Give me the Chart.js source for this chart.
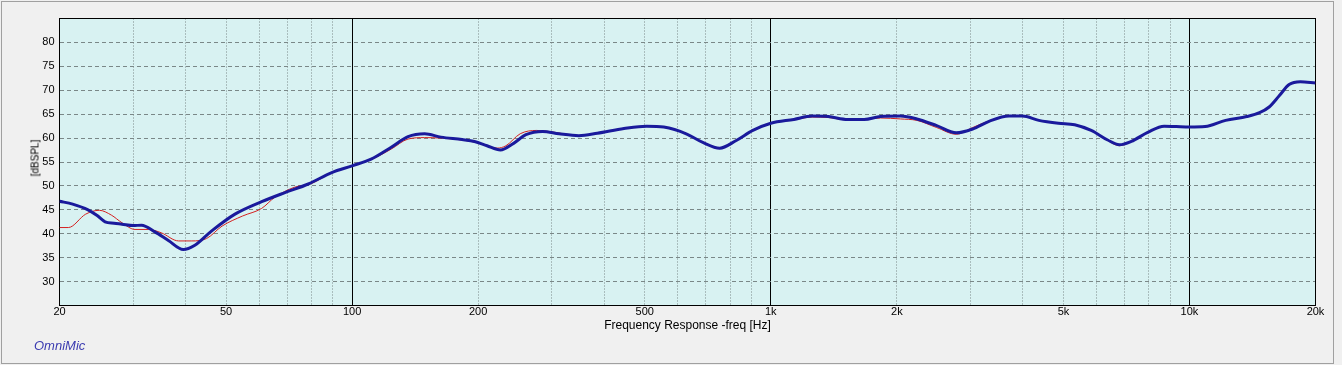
<!DOCTYPE html>
<html>
<head>
<meta charset="utf-8">
<title>Frequency Response</title>
<script src="https://cdn.jsdelivr.net/npm/chart.js@4.4.1/dist/chart.umd.min.js"></script>
<style>
  html, body { margin: 0; padding: 0; background: #f0f0f0; }
  #wrap { position: relative; width: 1342px; height: 365px; overflow: hidden; }
  #frame { position: absolute; left: 1px; top: 1px; width: 1333px; height: 363px; box-sizing: border-box; border: 1px solid #a0a0a0; }
  #chart { position: absolute; left: 0; top: 0; }
  #ytitle { position: absolute; left: 35px; top: 158px; transform: translate(-50%, -50%) rotate(-90deg);
            font: 10px "Liberation Sans", Arial, sans-serif; color: #000; white-space: nowrap; }
  #brand { position: absolute; left: 34px; top: 338px; font: italic 13px "Liberation Sans", Arial, sans-serif; color: #3a3ab0; }
</style>
</head>
<body>
<div id="wrap">
  <div id="frame"></div>
  <canvas id="chart" width="1342" height="365"></canvas>
  <div id="ytitle">[dBSPL]</div>
  <div id="brand">OmniMic</div>
</div>
<script>
// Measured response (thick blue trace)
const BLUE_FREQ = [
  20, 21.5, 23.4, 24.6, 25.7, 27, 28.2, 30, 31.4, 33.8,
  36.4, 39.5, 42.1, 46.2, 52.5, 60.8, 69.1, 78.6, 89.4, 100,
  111, 124, 136, 149, 163, 183, 196, 210, 226, 243,
  260, 285, 312, 348, 385, 446, 505, 555, 628, 688,
  755, 827, 906, 1000, 1135, 1256, 1371, 1528, 1671, 1828,
  2040, 2233, 2490, 2773, 3035, 3321, 3708, 3990, 4367, 4865,
  5319, 5825, 6377, 6800, 7260, 7950, 8700, 9300, 10000, 10900,
  12200, 13700, 14700, 15500, 16400, 17300, 18400, 20000
];
const BLUE_DB = [
  46.8, 46.2, 45.0, 43.8, 42.5, 42.2, 42.0, 41.7, 41.8, 40.4,
  38.6, 36.7, 37.6, 40.6, 44.1, 46.7, 48.6, 50.4, 52.8, 54.2,
  55.6, 58.1, 60.3, 60.9, 60.2, 59.7, 59.3, 58.4, 57.5, 58.9,
  60.7, 61.4, 60.9, 60.5, 61.0, 62.0, 62.5, 62.3, 60.9, 59.1,
  57.9, 59.5, 61.6, 63.1, 63.9, 64.6, 64.5, 63.9, 63.9, 64.5,
  64.6, 64.0, 62.6, 61.1, 61.9, 63.5, 64.6, 64.6, 63.7, 63.1,
  62.8, 61.6, 59.6, 58.6, 59.3, 61.2, 62.5, 62.4, 62.3, 62.4,
  63.7, 64.5, 65.3, 66.5, 68.9, 71.2, 71.8, 71.5
];

// Reference response (thin red trace)
const RED_FREQ = [
  20, 21, 23.1, 24.9, 26.6, 28.2, 30.3, 32.6, 35, 38.5,
  41.4, 44.9, 48.9, 54.7, 60.8, 65.3, 72.7, 80, 89.4, 100,
  111, 124, 136, 149, 163, 183, 200, 222, 233, 252,
  276, 300, 348, 385, 446, 505, 555, 628, 688, 755,
  827, 906, 1000, 1135, 1256, 1371, 1528, 1671, 1828, 2040,
  2233, 2490, 2773, 3035, 3321, 3708, 3990, 4367, 4865, 5319,
  5825, 6377, 6800, 7260, 7950, 8700, 9300, 10000, 10900, 12200,
  13700, 14700, 15500, 16400, 17300, 18400, 20000
];
const RED_DB = [
  41.3, 41.3, 44.1, 44.9, 43.9, 42.3, 40.9, 40.9, 40.2, 38.5,
  38.5, 39.0, 41.6, 43.7, 45.3, 47.6, 49.7, 50.5, 52.8, 54.2,
  55.5, 57.7, 59.8, 60.1, 60.0, 59.6, 59.0, 57.9, 58.4, 60.9,
  61.6, 61.3, 60.5, 61.0, 62.0, 62.5, 62.3, 60.9, 59.1, 57.8,
  59.5, 61.6, 63.1, 63.8, 64.4, 64.3, 63.8, 63.9, 64.2, 64.0,
  63.7, 62.2, 60.8, 62.2, 63.6, 64.6, 64.6, 63.7, 63.1, 62.8,
  61.6, 59.5, 58.4, 59.3, 61.2, 62.5, 62.4, 62.3, 62.4, 63.7,
  64.5, 65.3, 66.5, 68.9, 71.2, 71.8, 71.5
];

// Axes
const GRID_FREQ = [
  20, 30, 40, 50, 60, 70, 80, 90,
  100, 200, 300, 400, 500, 600, 700, 800, 900,
  1000, 2000, 3000, 4000, 5000, 6000, 7000, 8000, 9000,
  10000, 20000
];
const DECADE_FREQ = [100, 1000, 10000];
const LABEL_FREQ = [20, 50, 100, 200, 500, 1000, 2000, 5000, 10000, 20000];
const LABEL_TEXT = ["20", "50", "100", "200", "500", "1k", "2k", "5k", "10k", "20k"];
const DB_TICKS = [30, 35, 40, 45, 50, 55, 60, 65, 70, 75, 80];

const FONT = "'Liberation Sans', Arial, sans-serif";
const PLOT_BG = "#d8f2f2";
const GRID_GRAY = "#7a8888";
const BLUE = "#1a1a9c";
const RED = "#d42020";

// plot background + black frame around the chart area
const plotFrame = {
  id: "plotFrame",
  beforeDraw(chart) {
    const { ctx, chartArea: a } = chart;
    ctx.save();
    ctx.fillStyle = PLOT_BG;
    ctx.fillRect(a.left, a.top, a.right - a.left, a.bottom - a.top);
    ctx.restore();
  },
  beforeDatasetsDraw(chart) {
    const { ctx, chartArea: a } = chart;
    ctx.save();
    ctx.strokeStyle = "#000";
    ctx.lineWidth = 1;
    ctx.strokeRect(a.left, a.top, a.right - a.left, a.bottom - a.top);
    ctx.restore();
  }
};

const toPoints = (fs, ds) => fs.map((f, i) => ({ x: f, y: ds[i] }));

new Chart(document.getElementById("chart"), {
  type: "scatter",
  data: {
    datasets: [
      {
        data: toPoints(BLUE_FREQ, BLUE_DB),
        showLine: true,
        borderColor: BLUE,
        borderWidth: 3,
        pointRadius: 0,
        cubicInterpolationMode: "monotone"
      },
      {
        data: toPoints(RED_FREQ, RED_DB),
        showLine: true,
        borderColor: RED,
        borderWidth: 1,
        pointRadius: 0,
        cubicInterpolationMode: "monotone"
      }
    ]
  },
  options: {
    responsive: false,
    animation: false,
    devicePixelRatio: 1,
    layout: { padding: { left: 0, top: 18.5, right: 26.5, bottom: 0 } },
    plugins: { legend: { display: false }, tooltip: { enabled: false } },
    scales: {
      x: {
        type: "logarithmic",
        position: "bottom",
        min: 20,
        max: 20000,
        afterBuildTicks: (scale) => { scale.ticks = GRID_FREQ.map(v => ({ value: v })); },
        afterFit: (scale) => { scale.height = 59.5; },
        grid: {
          drawTicks: false,
          color: (c) => (c.tick && (DECADE_FREQ.includes(c.tick.value) || c.tick.value === 20 || c.tick.value === 20000)) ? "rgba(0,0,0,0)" : GRID_GRAY
        },
        border: { display: false, dash: [1, 2] },
        ticks: {
          autoSkip: false,
          maxRotation: 0,
          padding: 0,
          color: "#000",
          font: { family: FONT, size: 11 },
          callback: (v) => {
            const i = LABEL_FREQ.indexOf(v);
            return i >= 0 ? LABEL_TEXT[i] : "";
          }
        },
        title: {
          display: true,
          text: "Frequency Response -freq [Hz]",
          color: "#000",
          font: { family: FONT, size: 12 },
          padding: { top: 0, bottom: 32 }
        }
      },
      xMajor: {
        type: "logarithmic",
        position: "bottom",
        min: 20,
        max: 20000,
        afterBuildTicks: (scale) => { scale.ticks = DECADE_FREQ.map(v => ({ value: v })); },
        afterFit: (scale) => { scale.height = 0; },
        grid: { drawTicks: false, color: "#000", lineWidth: 1 },
        border: { display: false },
        ticks: { display: false }
      },
      y: {
        type: "linear",
        min: 25,
        max: 85,
        afterBuildTicks: (scale) => { scale.ticks = DB_TICKS.map(v => ({ value: v })); },
        afterFit: (scale) => { scale.width = 59.5; },
        grid: { drawTicks: false, color: GRID_GRAY },
        border: { display: false, dash: [4, 3] },
        ticks: {
          padding: 5,
          color: "#000",
          font: { family: FONT, size: 11 }
        }
      }
    }
  },
  plugins: [plotFrame]
});
</script>
</body>
</html>
